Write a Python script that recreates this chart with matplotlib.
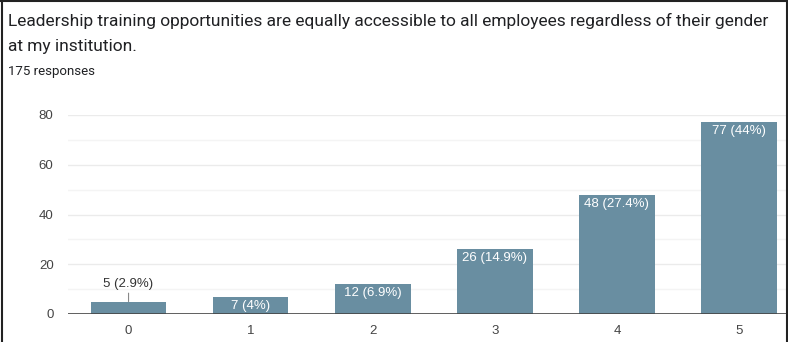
import matplotlib
matplotlib.use("Agg")
import matplotlib.pyplot as plt
from matplotlib.lines import Line2D

categories = ["0", "1", "2", "3", "4", "5"]
counts = [5, 7, 12, 26, 48, 77]
labels = ["5 (2.9%)", "7 (4%)", "12 (6.9%)", "26 (14.9%)", "48 (27.4%)", "77 (44%)"]
yticks = [0, 20, 40, 60, 80]
title = "Leadership training opportunities are equally accessible to all employees regardless of their gender\nat my institution."
subtitle = "175 responses"

W, H = 788, 342
fig = plt.figure(figsize=(W/100, H/100), dpi=100)
fig.patch.set_facecolor("white")

left_px, right_px, top_px, bot_px = 67.5, 800, 115, 314
ax = fig.add_axes([left_px/W, 1-bot_px/H, (right_px-left_px)/W, (bot_px-top_px)/H])
ax.set_xlim(-0.5, 5.5)
ax.set_ylim(0, 80)
x = list(range(len(categories)))
bar_color = "#698ea1"
ax.bar(x, counts, width=0.62, color=bar_color, zorder=3)

for y in range(10, 81, 10):
    ax.axhline(y, color="#ebebeb" if y % 20 == 0 else "#f4f4f4", lw=1, zorder=1)
ax.axhline(0, color="#444444", lw=1.2, zorder=4)

cfont = "Liberation Sans"
for s in ax.spines.values():
    s.set_visible(False)
ax.set_yticks(yticks)
ax.set_xticks(x)
ax.set_xticklabels(categories)
ax.tick_params(length=0, labelsize=9.5, colors="#444444", pad=8)
ax.tick_params(axis="y", pad=10)
for t in ax.get_xticklabels() + ax.get_yticklabels():
    t.set_fontfamily(cfont)

for i, (c, lab) in enumerate(zip(counts, labels)):
    if c < 6:
        ax.annotate(lab, xy=(i, c), xytext=(i, c + 4.5), ha="center", va="bottom",
                    fontsize=9.5, color="#333333", family=cfont,
                    arrowprops=dict(arrowstyle="-", color="#888888", lw=0.8, shrinkA=0, shrinkB=0),
                    zorder=5)
    else:
        ax.text(i, c - 1.2, lab, ha="center", va="top", fontsize=9.5, color="white",
                family=cfont, zorder=5)

fig.text(8/W, 1-13/H, title, ha="left", va="top", fontsize=12.5, family="Roboto",
         color="#202124", linespacing=1.85)
fig.text(8/W, 1-65/H, subtitle, ha="left", va="top", fontsize=9.5, family="Roboto", color="#202124")

fig.add_artist(Line2D([1.5/W, 1.5/W], [0, 1], color="#222222", lw=1.5, transform=fig.transFigure))
fig.add_artist(Line2D([0, 1], [1-1/H, 1-1/H], color="#222222", lw=1.5, transform=fig.transFigure))
fig.add_artist(Line2D([1-1.5/W, 1-1.5/W], [0, 1], color="#222222", lw=1.5, transform=fig.transFigure))

fig.savefig("out.png", dpi=100)
